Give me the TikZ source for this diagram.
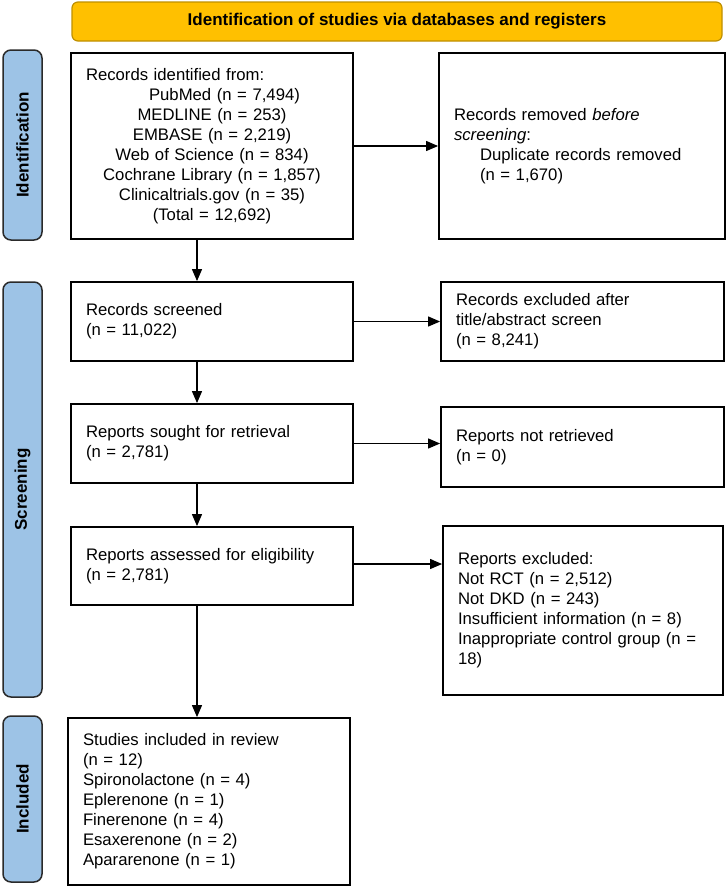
\documentclass[tikz,border=0pt]{standalone}
\usepackage{fontspec}
\setmainfont{Liberation Sans}
\usetikzlibrary{arrows.meta}
\definecolor{bannerfill}{HTML}{FFC000}
\definecolor{bannerdraw}{HTML}{BF9000}
\definecolor{sidefill}{HTML}{9DC3E6}
\definecolor{sidedraw}{HTML}{2A2A2A}
\begin{document}
\begin{tikzpicture}[x=1pt,y=-1pt,
  box/.style={draw=black, line width=1.8pt, fill=white, inner xsep=15pt, inner ysep=0pt,
    align=left, font=\fontsize{16.7}{20}\selectfont},
  banner/.style={draw=bannerdraw, line width=1.2pt, fill=bannerfill, rounded corners=6pt,
    inner sep=0pt, font=\bfseries\fontsize{17}{20}\selectfont},
  side/.style={draw=sidedraw, line width=1.5pt, fill=sidefill, rounded corners=8pt,
    rotate=90, inner sep=0pt, font=\bfseries\fontsize{17}{20}\selectfont},
  arr/.style={line width=1.1pt, -{Triangle[length=12pt,width=10pt]}}]
\useasboundingbox (0,0) rectangle (726,887);

% banner
\node[banner, minimum width=650pt, minimum height=39pt] (ban) at (397,21.5)
  {Identification of studies via databases and registers};

% side bars
\node[side, minimum width=190pt, minimum height=39pt] (sid) at (22.5,145) {Identification};
\node[side, minimum width=415pt, minimum height=39pt] (sscr) at (22.5,489.5) {Screening};
\node[side, minimum width=166pt, minimum height=39pt] (sinc) at (22.5,799) {Included};

% boxes
\node[box, text width=252pt, minimum height=186pt] (b1) at (212,146)
  {Records identified from:\par\centering
   \hspace*{25pt}PubMed (n = 7,494)\par
   MEDLINE (n = 253)\par
   EMBASE (n = 2,219)\par
   Web of Science (n = 834)\par
   Cochrane Library (n = 1,857)\par
   Clinicaltrials.gov (n = 35)\par
   (Total = 12,692)\par};
\node[box, text width=256pt, minimum height=186pt] (rem) at (582,146)
  {Records removed \textit{before}\\
   \textit{screening}:\\
   \hspace*{26pt}Duplicate records removed\\
   \hspace*{26pt}(n = 1,670)};

\node[box, text width=252pt, minimum height=79pt] (scr) at (212,321.5)
  {Records screened\\(n = 11,022)};
\node[box, text width=253pt, minimum height=79pt] (exa) at (582.5,321.5)
  {Records excluded after\\title/abstract screen\\(n = 8,241)};

\node[box, text width=252pt, minimum height=79pt] (sou) at (212,443.5)
  {Reports sought for retrieval\\(n = 2,781)};
\node[box, text width=253pt, minimum height=80pt] (nre) at (582.5,447)
  {Reports not retrieved\\(n = 0)};

\node[box, text width=252pt, minimum height=78pt] (ass) at (212,566)
  {Reports assessed for eligibility\\(n = 2,781)};
\node[box, text width=250pt, minimum height=169pt] (exb) at (583,610.5)
  {Reports excluded:\\
   Not RCT (n = 2,512)\\
   Not DKD (n = 243)\\
   Insufficient information (n = 8)\\
   Inappropriate control group (n =\\
   18)};

\node[box, text width=252pt, minimum height=167pt] (inc) at (209,801.5)
  {Studies included in review\\
   (n = 12)\\
   Spironolactone (n = 4)\\
   Eplerenone (n = 1)\\
   Finerenone (n = 4)\\
   Esaxerenone (n = 2)\\
   Apararenone (n = 1)};

% connectors
\draw[arr] (b1.east) -- (b1.east -| rem.west);
\draw[arr] (scr.east) -- (scr.east -| exa.west);
\draw[arr] (sou.east) -- (sou.east -| nre.west);
\draw[arr] ([yshift=2pt]ass.east) -- ([yshift=2pt]ass.east -| exb.west);
\draw[arr] ([xshift=-15pt]b1.south) -- ([xshift=-15pt]scr.north);
\draw[arr] ([xshift=-15pt]scr.south) -- ([xshift=-15pt]sou.north);
\draw[arr] ([xshift=-15pt]sou.south) -- ([xshift=-15pt]ass.north);
\draw[arr] ([xshift=-15pt]ass.south) -- ([xshift=-15pt]ass.south |- inc.north);
\end{tikzpicture}
\end{document}
